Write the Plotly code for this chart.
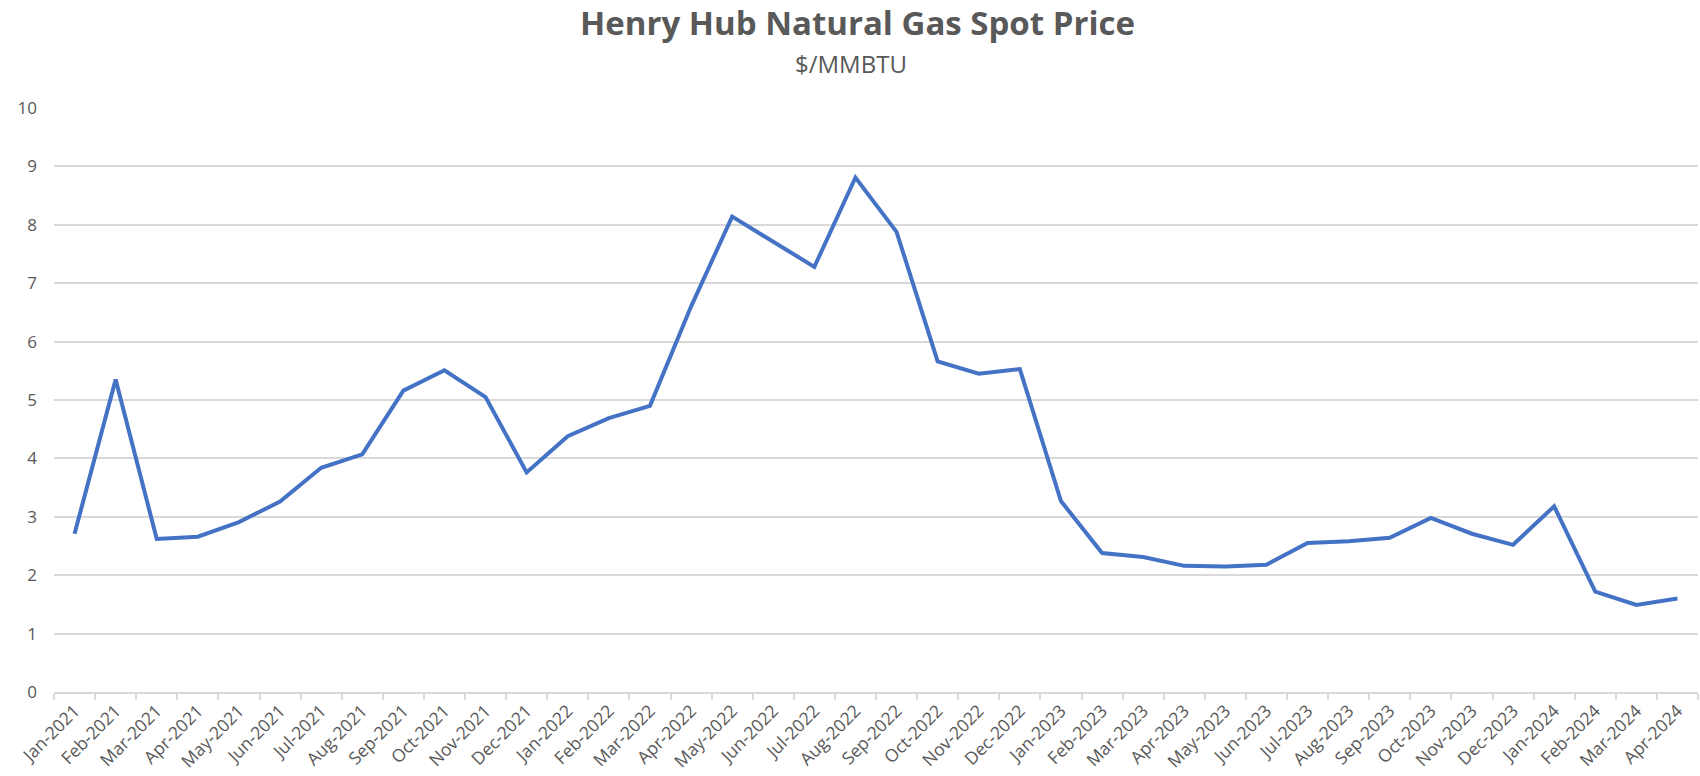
import plotly.graph_objects as go

months = ["Jan-2021","Feb-2021","Mar-2021","Apr-2021","May-2021","Jun-2021","Jul-2021","Aug-2021",
          "Sep-2021","Oct-2021","Nov-2021","Dec-2021","Jan-2022","Feb-2022","Mar-2022","Apr-2022",
          "May-2022","Jun-2022","Jul-2022","Aug-2022","Sep-2022","Oct-2022","Nov-2022","Dec-2022",
          "Jan-2023","Feb-2023","Mar-2023","Apr-2023","May-2023","Jun-2023","Jul-2023","Aug-2023",
          "Sep-2023","Oct-2023","Nov-2023","Dec-2023","Jan-2024","Feb-2024","Mar-2024","Apr-2024"]
prices = [2.71, 5.35, 2.62, 2.66, 2.91, 3.26, 3.84, 4.07,
          5.16, 5.51, 5.05, 3.76, 4.38, 4.69, 4.90, 6.60,
          8.14, 7.70, 7.28, 8.81, 7.88, 5.66, 5.45, 5.53,
          3.27, 2.38, 2.31, 2.16, 2.15, 2.18, 2.55, 2.58,
          2.64, 2.98, 2.71, 2.52, 3.18, 1.72, 1.49, 1.60]
y_ticks = [0, 1, 2, 3, 4, 5, 6, 7, 8, 9, 10]

title_text = "Henry Hub Natural Gas Spot Price"
subtitle_text = "$/MMBTU"

fig = go.Figure()
fig.add_trace(go.Scatter(x=months, y=prices, mode="lines",
                         line=dict(color="#4472C4", width=4), showlegend=False))

fig.update_layout(
    width=1700, height=776,
    paper_bgcolor="white", plot_bgcolor="white",
    margin=dict(l=54, r=2, t=108, b=84),
    font=dict(family="Open Sans", color="#595959", size=17),
)
fig.add_annotation(text="<b>" + title_text + "</b>", xref="paper", yref="paper",
                   x=0.489, y=1, yshift=86, showarrow=False, yanchor="middle",
                   font=dict(size=33, color="#595959", family="Open Sans"))
fig.add_annotation(text=subtitle_text, xref="paper", yref="paper",
                   x=0.485, y=1, yshift=45, showarrow=False, yanchor="middle",
                   font=dict(size=24, color="#595959", family="Open Sans"))

fig.update_xaxes(type="category", range=[-0.5, len(months) - 0.5], tickangle=-45,
                 tickson="boundaries", automargin=False,
                 ticks="outside", ticklen=6, tickcolor="#d9d9d9", tickwidth=1.5,
                 showline=True, linecolor="#d9d9d9", linewidth=1.5,
                 showgrid=False, tickfont=dict(size=17.5, color="#595959"))
fig.update_yaxes(range=[0, 10], tickvals=y_ticks, showgrid=True, gridcolor="#d9d9d9",
                 gridwidth=1.5, zeroline=False, showline=False, automargin=False,
                 ticklabelstandoff=16,
                 tickfont=dict(size=17, color="#595959"), ticklen=0)

fig.write_html("out.html", config={"displayModeBar": False},
               post_script="document.body.style.margin='0';")
